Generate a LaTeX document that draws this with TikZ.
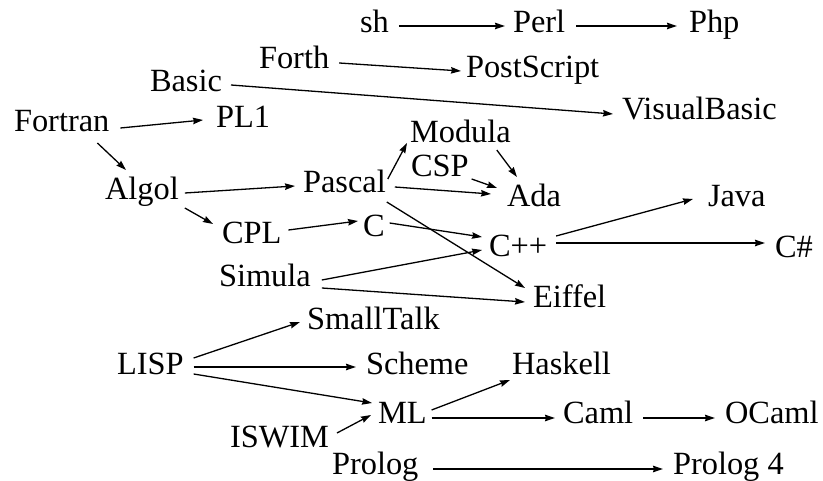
\documentclass[tikz,border=0pt]{standalone}
\usepackage{fontspec}
\setmainfont{Liberation Serif}
\usetikzlibrary{arrows.meta,calc}
\begin{document}
\begin{tikzpicture}[x=1pt,y=-1pt,
  lang/.style={anchor=base west, inner sep=0pt, outer sep=0pt, font=\fontsize{32.4}{38}\selectfont},
  edge/.style={line width=1.3pt, -{Stealth[length=10pt,width=6.5pt,inset=1pt]}}]
\useasboundingbox (0,0) rectangle (823,481);
\node[lang] (sh) at (360,33) {sh};
\node[lang] (perl) at (513,33) {Perl};
\node[lang] (php) at (689,33) {Php};
\node[lang] (forth) at (259,69) {Forth};
\node[lang] (ps) at (466,78) {PostScript};
\node[lang] (basic) at (150,92) {Basic};
\node[lang] (vb) at (622,120) {VisualBasic};
\node[lang] (fortran) at (14,132) {Fortran};
\node[lang] (pl1) at (216,128) {PL1};
\node[lang] (modula) at (410,143) {Modula};
\node[lang] (csp) at (411,177) {CSP};
\node[lang] (ada) at (507,207) {Ada};
\node[lang] (java) at (708,207) {Java};
\node[lang] (algol) at (105,200) {Algol};
\node[lang] (pascal) at (303,193) {Pascal};
\node[lang] (cpl) at (222,244) {CPL};
\node[lang] (c) at (363,237) {C};
\node[lang] (cpp) at (489,257) {C++};
\node[lang] (cs) at (775,258) {C\#};
\node[lang] (simula) at (219,287) {Simula};
\node[lang] (eiffel) at (533,308) {Eiffel};
\node[lang] (smalltalk) at (307,330) {SmallTalk};
\node[lang] (lisp) at (117,374) {LISP};
\node[lang] (scheme) at (366,374) {Scheme};
\node[lang] (haskell) at (512,374) {Haskell};
\node[lang] (ml) at (378,424) {ML};
\node[lang] (caml) at (563,424) {Caml};
\node[lang] (ocaml) at (725,424) {OCaml};
\node[lang] (iswim) at (230,447) {ISWIM};
\node[lang] (prolog) at (332,475) {Prolog};
\node[lang] (prolog4) at (673,475) {Prolog 4};
\draw[edge] ($(sh.base east)+(10,-7)$) -- ($(perl.base west)+(-8,-7)$);
\draw[edge] ($(perl.base east)+(11,-7)$) -- ($(php.base west)+(-12,-7)$);
\draw[edge] ($(forth.base east)+(10,-6)$) -- ($(ps.base west)+(-5,-7)$);
\draw[edge] ($(basic.base east)+(9,-7)$) -- ($(vb.base west)+(-9,-6)$);
\draw[edge] ($(fortran.base east)+(11,-4)$) -- ($(pl1.base west)+(-13,-8)$);
\draw[edge] ($(fortran.base east)+(-12,11)$) -- ($(algol.base west)+(21,-30)$);
\draw[edge] ($(algol.base east)+(6,-7)$) -- ($(pascal.base west)+(-8,-7)$);
\draw[edge] ($(algol.base east)+(6,8)$) -- ($(cpl.base west)+(-9,-20)$);
\draw[edge] ($(pascal.base east)+(2,-14)$) -- ($(modula.base west)+(-3,0)$);
\draw[edge] ($(pascal.base east)+(9,-6)$) -- ($(ada.base west)+(-16,-13)$);
\draw[edge] ($(pascal.base east)+(1,9)$) -- ($(eiffel.base west)+(-8,-20)$);
\draw[edge] ($(modula.base east)+(-14,7)$) -- ($(ada.base west)+(10,-30)$);
\draw[edge] ($(csp.base east)+(3,2)$) -- ($(ada.base west)+(-10,-19)$);
\draw[edge] ($(cpl.base east)+(7,-14)$) -- ($(c.base west)+(-5,-16)$);
\draw[edge] ($(c.base east)+(5,-14)$) -- ($(cpp.base west)+(-7,-20)$);
\draw[edge] ($(simula.base east)+(11,-7)$) -- ($(cpp.base west)+(-7,-7)$);
\draw[edge] ($(simula.base east)+(11,1)$) -- ($(eiffel.base west)+(-8,-6)$);
\draw[edge] ($(cpp.base east)+(9,-21)$) -- ($(java.base west)+(-15,-8)$);
\draw[edge] ($(cpp.base east)+(9,-14)$) -- ($(cs.base west)+(-10,-15)$);
\draw[edge] ($(lisp.base east)+(10,-16)$) -- ($(smalltalk.base west)+(-7,-8)$);
\draw[edge] ($(lisp.base east)+(10,-7)$) -- ($(scheme.base west)+(-10,-7)$);
\draw[edge] ($(lisp.base east)+(10,0)$) -- ($(ml.base west)+(-6,-21)$);
\draw[edge] ($(iswim.base east)+(8,-14)$) -- ($(ml.base west)+(-7,-9)$);
\draw[edge] ($(ml.base east)+(5,-14)$) -- ($(haskell.base west)+(-2,6)$);
\draw[edge] ($(ml.base east)+(5,-6)$) -- ($(caml.base west)+(-8,-6)$);
\draw[edge] ($(caml.base east)+(10,-6)$) -- ($(ocaml.base west)+(-10,-6)$);
\draw[edge] ($(prolog.base east)+(15,-6)$) -- ($(prolog4.base west)+(-10,-6)$);
\end{tikzpicture}
\end{document}
